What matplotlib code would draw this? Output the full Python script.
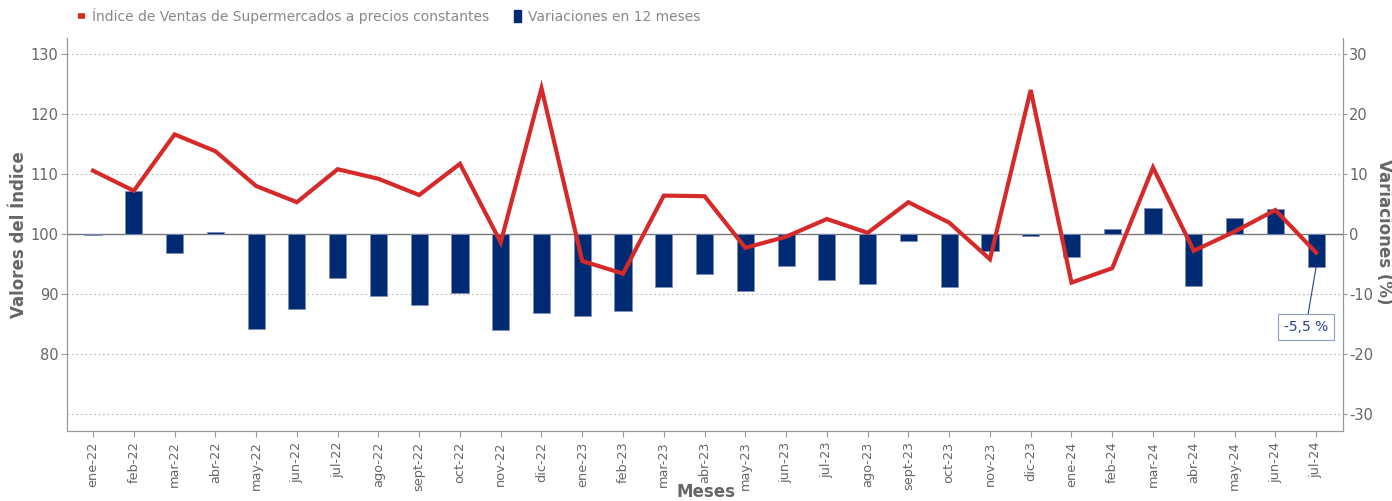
import numpy as np
import matplotlib
matplotlib.use("Agg")
import matplotlib.pyplot as plt
from matplotlib.lines import Line2D
from matplotlib.patches import Patch

plt.rcParams['axes.unicode_minus'] = False

meses = ['ene-22', 'feb-22', 'mar-22', 'abr-22', 'may-22', 'jun-22', 'jul-22', 'ago-22',
         'sept-22', 'oct-22', 'nov-22', 'dic-22', 'ene-23', 'feb-23', 'mar-23', 'abr-23',
         'may-23', 'jun-23', 'jul-23', 'ago-23', 'sept-23', 'oct-23', 'nov-23', 'dic-23',
         'ene-24', 'feb-24', 'mar-24', 'abr-24', 'may-24', 'jun-24', 'jul-24']

indice = [110.55, 107.2, 116.6, 113.8, 108.0, 105.3, 110.8, 109.2, 106.5, 111.7,
          98.6, 124.3, 95.5, 93.4, 106.4, 106.3, 97.7, 99.55, 102.5, 100.2,
          105.3, 101.9, 95.8, 124.0, 91.9, 94.3, 111.1, 97.2, 100.4, 104.0, 96.9]

variacion = [-0.2, 7.2, -3.1, 0.4, -15.8, -12.5, -7.4, -10.3, -11.9, -9.8,
             -16.0, -13.1, -13.7, -12.8, -8.8, -6.7, -9.5, -5.3, -7.6, -8.3,
             -1.2, -8.8, -2.9, -0.4, -3.9, 0.9, 4.3, -8.6, 2.7, 4.2, -5.5]

RED = '#d62a2a'
BLUE = '#002b73'
GREY = '#666666'

fig = plt.figure(figsize=(13.92, 5.01), dpi=100)
ax = fig.add_axes([0.0481, 0.1397, 0.9167, 0.7845])
ax2 = ax.twinx()

x = np.arange(len(meses))

# bars on right axis, line on left axis (line drawn on top)
ax2.bar(x, variacion, width=0.42, color=BLUE, edgecolor='#7f8fb8', linewidth=0.6, zorder=2)
ax2.set_zorder(1)
ax.set_zorder(2)
ax.patch.set_visible(False)
ax.plot(x, indice, color=RED, linewidth=3.0, zorder=3, solid_joinstyle='miter')

ax.set_xlim(-0.64, 30.66)
ax.set_ylim(67.17, 132.67)
ax2.set_ylim(-32.83, 32.67)

ax.set_yticks([80, 90, 100, 110, 120, 130])
ax2.set_yticks([-30, -20, -10, 0, 10, 20, 30])
ax.set_xticks(x)
ax.set_xticklabels(meses, rotation=90)

for v in [-30, -20, -10, 10, 20, 30]:
    ax2.axhline(v, color='#b5b5b5', linestyle=(0, (1.5, 2.5)), linewidth=0.8, zorder=0)
ax2.axhline(0, color='#777777', linewidth=1.0, zorder=1)

for a in (ax, ax2):
    a.spines['top'].set_visible(False)
    for s in ('left', 'right', 'bottom'):
        a.spines[s].set_color('#999999')
    a.tick_params(colors='#999999', labelcolor=GREY, labelsize=10.5, length=4)
ax.tick_params(axis='x', labelsize=9.3)
ax.tick_params(axis='y', pad=2)
ax2.tick_params(axis='y', pad=1.5, length=3)

ax.set_ylabel('Valores del Índice', fontsize=12, fontweight='bold', color=GREY, labelpad=2)
fig.text(0.9945, 0.537, 'Variaciones (%)', fontsize=12, fontweight='bold', color=GREY,
         rotation=-90, ha='center', va='center')
fig.text(0.507, 0.0, 'Meses', fontsize=12, fontweight='bold', color=GREY,
         ha='center', va='bottom')

# annotation for the last bar
ax2.annotate('-5,5 %', xy=(30, variacion[-1]), xytext=(29.75, -15.5),
             color='#2a3f8a', fontsize=10, ha='center', va='center',
             bbox=dict(boxstyle='square,pad=0.4', fc='white', ec='#8a9cc0', lw=0.8),
             arrowprops=dict(arrowstyle='-', color='#2a3f8a', lw=0.8,
                             shrinkA=0, shrinkB=0))

handles = [Line2D([0], [0], color=RED, linewidth=4, solid_capstyle='butt'),
           Patch(facecolor=BLUE, edgecolor=BLUE)]
labels = ['Índice de Ventas de Supermercados a precios constantes', 'Variaciones en 12 meses']
fig.legend(handles, labels, loc='center left', bbox_to_anchor=(0.047, 0.968), ncol=2,
           frameon=False, fontsize=10, labelcolor='#888888', handlelength=0.5,
           handleheight=1.0, handletextpad=0.5, columnspacing=1.8)

fig.savefig('out.png', dpi=100)
